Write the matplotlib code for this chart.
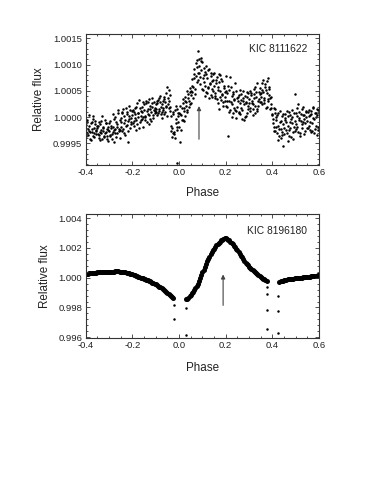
import numpy as np
import matplotlib
matplotlib.use("Agg")
import matplotlib.pyplot as plt
from matplotlib.ticker import AutoMinorLocator

plt.rcParams['font.family'] = ['Liberation Sans', 'DejaVu Sans']

# ---------------- Top panel: KIC 8111622 (flux offsets in units of 1e-4) -------------
top_start = -0.4
top_step = 0.005
top_flux_a = [
    -1.5, -3.0, -2.2, 0.4, -2.8, -1.0, -3.6, -2.0, -0.8, -3.2,
    -2.0, -4.0, -1.4, -3.0, 0.3, -2.6, -3.8, -1.1, -2.2, -4.6,
    -1.2, -3.4, -2.0, 0.5, -4.8, -2.3, -1.0, -3.0, 0.8, -2.4,
    -0.2, -2.6, 1.6, -1.2, -3.4, 0.6, -0.8, 2.2, -2.0, -0.2,
    0.4, -1.6, 1.8, -0.6, 2.6, 0.0, -2.0, 1.2, -0.4, 2.8,
    1.4, -0.6, 3.0, 0.6, -1.4, 2.2, 1.0, 3.6, -0.2, 1.8,
    2.4, 0.4, 3.2, 1.2, 2.8, -0.2, 1.8, 3.8, 1.0, 2.2,
    5.8, 3.0, 1.2, -1.6, -3.8, 0.6, -2.8, -0.4, 1.6, -1.0,
    -1.8, -4.8, 0.4, -0.6, 1.8, 0.2, 2.8, 1.4, 3.6, 2.4,
    4.2, 6.0, 3.6, 8.2, 5.4, 9.6, 7.0, 11.0, 6.2, 9.0,
    10.4, 6.6, 8.6, 4.8, 7.4, 5.6, 9.2, 4.2, 6.8, 5.0,
    8.4, 4.6, 6.4, 2.6, 8.2, 5.0, 3.2, 6.8, 2.2, 4.8,
    7.8, 3.0, -3.6, 5.2, 1.4, 4.0, 0.8, 3.4, 6.4, 1.2,
    2.0, 4.2, 0.6, 3.2, -0.4, 5.0, 2.4, 0.2, 3.8, 1.6,
    3.4, 1.2, 4.6, 2.4, 5.4, 0.8, 3.8, 6.4, 2.2, 4.4,
    4.6, 2.4, 7.0, 3.6, 5.8, 2.0, 7.4, 4.2, 1.6, 3.8,
    0.4, -1.8, 1.6, -0.6, -3.0, 0.8, -2.2, -4.0, 0.2, -5.4,
    -3.2, 0.6, -1.0, -4.6, 1.0, -2.0, -0.4, 1.4, -2.8, 4.4,
    0.8, -1.8, 2.4, -0.2, -3.0, 1.6, -1.0, 0.4, -2.6, 1.2,
    -0.8, 1.4, -2.4, 0.6, -1.2, 2.0, -3.0, 0.0, 1.6, -1.8,
    0.8,
]
top_flux_b = [
    -3.5, -0.5, -2.6, -4.2, -1.2, -2.9, 0.2, -3.8, -2.4, -1.6,
    -3.2, -1.0, -4.4, -2.5, -1.8, -3.6, -0.6, -2.9, -4.1, -1.9,
    -3.6, -1.6, -4.2, -2.8, -0.4, -3.1, -1.9, 1.4, -2.7, -4.0,
    -1.8, 0.9, -3.0, -0.5, 1.8, -1.5, -4.8, 0.3, -0.9, 1.2,
    -1.2, 1.0, -0.2, -2.4, 0.8, 3.2, -1.0, 0.2, 2.0, -1.8,
    0.2, 2.6, -1.0, 1.6, 3.4, -0.4, 2.0, 0.4, 2.8, 1.2,
    1.0, 3.0, 1.6, 4.0, 0.6, 2.4, 1.4, 3.4, 2.0, 0.2,
    2.4, 5.2, 2.0, -2.6, 1.0, -3.2, -4.0, 2.2, -1.8, 0.8,
    0.6, -2.4, 1.8, 2.6, -0.8, 3.0, 1.0, 4.4, 2.0, 4.8,
    2.6, 4.8, 7.4, 4.4, 10.2, 6.6, 12.6, 8.4, 11.2, 5.4,
    5.2, 8.0, 4.0, 9.8, 5.8, 3.6, 6.4, 8.4, 3.8, 7.0,
    4.0, 7.0, 3.4, 5.8, 1.6, 8.0, 4.2, 2.8, 5.6, 3.0,
    2.2, 4.6, 1.0, 7.6, 2.8, 0.0, 4.4, 1.8, -0.2, 3.6,
    3.8, 1.0, 5.2, 1.8, 3.0, -0.6, 4.0, 2.6, 0.8, 4.6,
    1.8, 4.2, 2.6, 0.4, 3.6, 5.8, 1.6, 3.0, 4.8, 2.8,
    2.8, 5.2, 3.2, 6.2, 1.8, 4.6, 3.0, 5.4, 2.4, 0.6,
    -1.2, 1.8, -2.6, 0.0, -1.6, -3.6, 1.2, -0.8, -2.8, -1.4,
    -0.6, -2.4, 1.2, -1.6, -3.6, 0.4, -1.2, -4.2, 0.8, -0.8,
    -2.2, 1.8, -0.6, -3.6, 0.6, -1.4, 2.0, -0.4, 1.0, -2.0,
    1.0, -1.6, 0.4, -2.8, 1.8, -0.4, -2.2, 0.8, -3.4, 1.4,
    -1.0,
]
top_flux_c = [
    -2.8, -0.9, -3.4, -1.6, -4.4, -2.2, -0.3, -3.0, -1.4, -2.6,
    -1.6, -3.4, -2.8, -0.8, -4.2, -2.0, -3.0, -1.2, -3.6, -2.4,
    -2.6, -0.8, -3.2, -1.8, -2.4, 0.0, -3.8, -1.4, -2.2, -0.6,
    -1.0, 0.8, -2.2, 0.2, -1.6, 1.0, -2.6, -0.4, 1.4, -1.4,
    1.4, -0.8, 0.6, 2.0, -1.4, 0.8, 1.8, -0.6, 1.0, 0.0,
    2.4, 0.0, 1.2, 2.8, 0.4, 1.6, -0.8, 2.6, 1.4, 0.8,
    1.6, 2.6, 0.8, 3.6, 2.0, 1.0, 3.0, 0.6, 2.8, 4.6,
    3.6, 1.8, 4.2, 0.2, -2.0, -3.0, 1.4, -1.2, -2.4, 0.2,
    0.8, 2.2, -0.6, 3.4, 1.2, 3.8, 2.2, 5.0, 3.0, 5.6,
    5.0, 7.2, 5.8, 9.2, 7.8, 10.8, 8.4, 9.8, 7.6, 10.6,
    7.4, 9.4, 6.0, 8.2, 4.6, 9.0, 6.2, 7.8, 5.4, 8.2,
    6.0, 3.6, 7.6, 5.2, 6.6, 3.8, 7.2, 4.4, 6.0, 3.8,
    5.0, 2.0, 6.0, 3.0, 5.8, 2.4, 4.8, 3.2, 1.4, 5.0,
    3.0, 0.8, 2.6, 4.4, 1.4, 3.6, 0.0, 2.8, 4.8, 2.2,
    2.6, 5.0, 3.0, 1.6, 4.4, 2.2, 4.8, 1.2, 3.4, 5.6,
    3.8, 6.4, 4.8, 2.6, 5.2, 6.8, 3.4, 5.8, 3.6, 1.8,
    -0.4, -2.6, 0.8, -1.8, 0.4, -4.4, -1.0, -2.2, -3.4, 0.6,
    -2.0, -0.2, -3.0, 0.2, -2.4, -1.0, -3.8, 0.0, -1.8, -2.6,
    -1.4, 0.2, -2.8, 1.0, -0.8, -2.0, 0.4, -3.2, -1.2, 0.0,
    -2.0, 0.2, -1.0, 1.2, -2.6, -0.2, 0.8, -1.6, 0.4, -2.4,
    0.2,
]
top_extra_phase = [-0.007]
top_extra_flux = [-8.7]

# ---------------- Bottom panel: KIC 8196180 (flux offsets in units of 1e-3) -------------
bot_step = 0.005
bot_left_start = -0.400
bot_left_flux = [
    0.26, 0.27, 0.28, 0.29, 0.30, 0.31, 0.32, 0.32, 0.33, 0.34,
    0.35, 0.35, 0.36, 0.37, 0.37, 0.38, 0.38, 0.39, 0.39, 0.40,
    0.40, 0.40, 0.41, 0.41, 0.41, 0.42, 0.42, 0.42, 0.42, 0.41,
    0.41, 0.40, 0.39, 0.38, 0.36, 0.34, 0.32, 0.30, 0.28, 0.25,
    0.22, 0.19, 0.16, 0.13, 0.10, 0.07, 0.04, 0.01, -0.02, -0.05,
    -0.08, -0.11, -0.15, -0.18, -0.22, -0.25, -0.29, -0.33, -0.37, -0.41,
    -0.45, -0.50, -0.55, -0.60, -0.65, -0.70, -0.76, -0.82, -0.88, -0.94,
    -1.00, -1.07, -1.14, -1.22, -1.30, -1.38,
]
bot_mid_start = 0.030
bot_mid_flux = [
    -1.45, -1.40, -1.33, -1.25, -1.15, -1.04, -0.93, -0.81, -0.69, -0.55,
    -0.40, -0.23, -0.05, 0.15, 0.35, 0.55, 0.74, 0.92, 1.09, 1.26,
    1.42, 1.57, 1.71, 1.84, 1.96, 2.07, 2.17, 2.26, 2.35, 2.43,
    2.50, 2.56, 2.61, 2.64, 2.64, 2.61, 2.56, 2.50, 2.43, 2.35,
    2.26, 2.16, 2.06, 1.96, 1.85, 1.73, 1.61, 1.49, 1.37, 1.25,
    1.13, 1.02, 0.92, 0.83, 0.75, 0.67, 0.59, 0.52, 0.45, 0.38,
    0.31, 0.24, 0.18, 0.12, 0.06, 0.00, -0.06, -0.12, -0.18, -0.25,
]
bot_right_start = 0.430
bot_right_flux = [
    -0.28, -0.24, -0.21, -0.19, -0.17, -0.15, -0.14, -0.12, -0.11, -0.09,
    -0.08, -0.07, -0.06, -0.05, -0.04, -0.03, -0.02, -0.01, 0.00, 0.01,
    0.02, 0.03, 0.04, 0.05, 0.06, 0.07, 0.08, 0.09, 0.10, 0.11,
    0.12, 0.13, 0.14, 0.15, 0.16,
]
ecl_phase = [-0.020, -0.020, 0.028, 0.028, 0.378, 0.378, 0.378, 0.378, 0.426, 0.426, 0.426]
ecl_flux = [-1.84, -2.78, -2.02, -3.84, -0.60, -1.11, -2.16, -3.44, -1.20, -2.24, -3.71]

xticks = [-0.4, -0.2, 0.0, 0.2, 0.4, 0.6]
top_yticks = [0.9995, 1.0000, 1.0005, 1.0010, 1.0015]
bot_yticks = [0.996, 0.998, 1.000, 1.002, 1.004]

# ---------------- Figure -----------------
fig = plt.figure(figsize=(3.82, 4.94), dpi=100)
ax1 = fig.add_axes([0.2243, 0.666, 0.6108, 0.2652])
ax2 = fig.add_axes([0.2243, 0.3158, 0.6108, 0.2510])

txtc = '#222222'

def seg(start, vals):
    return start + bot_step * np.arange(len(vals))

for flux, shift in [(top_flux_a, 0.0), (top_flux_b, 0.5), (top_flux_c, 0.25)]:
    ph = top_start + top_step * (np.arange(len(flux)) + shift)
    keep = ph <= 0.6
    ax1.scatter(ph[keep], 1 + np.array(flux)[keep] * 1e-4, s=3.2, c='black', linewidths=0)
ax1.scatter(top_extra_phase, 1 + np.array(top_extra_flux) * 1e-4, s=3.2, c='black', linewidths=0)

for start, vals in [(bot_left_start, bot_left_flux), (bot_mid_start, bot_mid_flux),
                    (bot_right_start, bot_right_flux)]:
    ax2.scatter(seg(start, vals), 1 + np.array(vals) * 1e-3, s=13, c='black', linewidths=0)
ax2.scatter(ecl_phase, 1 + np.array(ecl_flux) * 1e-3, s=3.2, c='black', linewidths=0)

ax1.set_ylim(0.99909, 1.00158)
ax2.set_ylim(0.99595, 1.00428)
ax1.set_yticks(top_yticks)
ax1.set_yticklabels(['%.4f' % v for v in top_yticks])
ax2.set_yticks(bot_yticks)
ax2.set_yticklabels(['%.3f' % v for v in bot_yticks])

for ax in (ax1, ax2):
    ax.set_xlim(-0.4, 0.6)
    ax.set_xticks(xticks)
    ax.set_xticklabels(['%.1f' % v for v in xticks])
    ax.xaxis.set_minor_locator(AutoMinorLocator(4))
    ax.yaxis.set_minor_locator(AutoMinorLocator(5))
    ax.tick_params(which='both', direction='in', top=True, right=True,
                   color='#333333', labelsize=6.8, labelcolor=txtc, width=0.6, pad=2.5)
    ax.tick_params(which='major', length=3)
    ax.tick_params(which='minor', length=1.6)
    for sp in ax.spines.values():
        sp.set_color('#333333')
        sp.set_linewidth(0.8)
    ax.set_xlabel('Phase', fontsize=8.4, color=txtc)
    ax.set_ylabel('Relative flux', fontsize=8.4, color=txtc)

ax1.yaxis.set_label_coords(-0.174, 0.5)
ax1.xaxis.set_label_coords(0.5, -0.166)
ax2.yaxis.set_label_coords(-0.150, 0.5)
ax2.xaxis.set_label_coords(0.5, -0.19)

ax1.text(0.9486, 0.883, 'KIC 8111622', transform=ax1.transAxes, ha='right', va='center',
         fontsize=7.4, color=txtc)
ax2.text(0.9486, 0.866, 'KIC 8196180', transform=ax2.transAxes, ha='right', va='center',
         fontsize=7.4, color=txtc)

arrow = dict(arrowstyle='-|>', color='#444444', lw=0.8, mutation_scale=6, shrinkA=0, shrinkB=0)
ax1.annotate('', xy=(0.0856, 1.00021), xytext=(0.0856, 0.99958), arrowprops=arrow)
ax2.annotate('', xy=(0.189, 1.00022), xytext=(0.189, 0.99814), arrowprops=arrow)

fig.savefig('out.png', dpi=100)
